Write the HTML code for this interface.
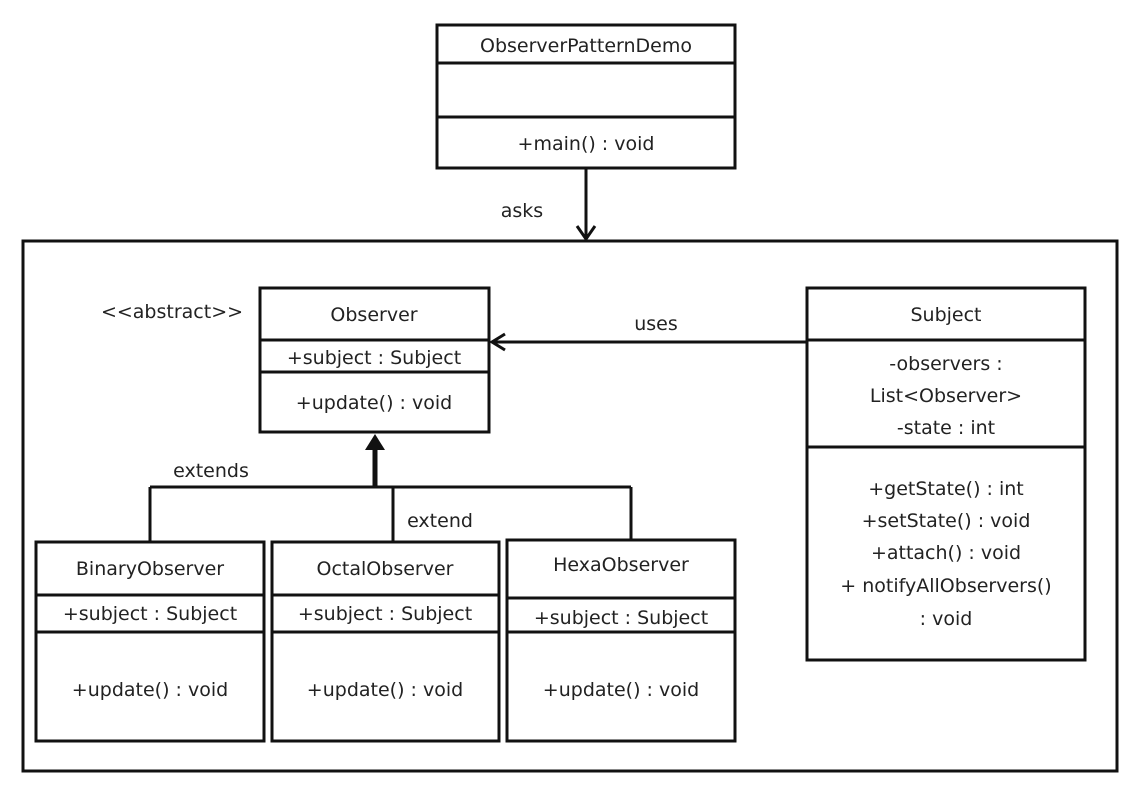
<!DOCTYPE html>
<html><head><meta charset="utf-8"><style>
html,body{margin:0;padding:0;background:#fff;}
svg{display:block;}
text{font-family:"DejaVu Sans","Liberation Sans",sans-serif;font-size:19px;fill:#222;}
</style></head><body>
<svg width="1138" height="790" viewBox="0 0 1138 790" xmlns="http://www.w3.org/2000/svg">
<g fill="none" stroke="#111" stroke-width="3">
<rect x="23" y="241" width="1094" height="530"/>
<rect x="437" y="25" width="298" height="143"/>
<line x1="437" y1="63" x2="735" y2="63"/>
<line x1="437" y1="117" x2="735" y2="117"/>
<line x1="586" y1="168" x2="586" y2="238"/>
<polyline points="577,226 586,239 595,226"/>
<rect x="260" y="288" width="229" height="144"/>
<line x1="260" y1="340" x2="489" y2="340"/>
<line x1="260" y1="372" x2="489" y2="372"/>
<rect x="807" y="288" width="278" height="372"/>
<line x1="807" y1="340" x2="1085" y2="340"/>
<line x1="807" y1="447" x2="1085" y2="447"/>
<line x1="807" y1="342" x2="492" y2="342"/>
<polyline points="505,334 492,342 505,350"/>
<line x1="375" y1="440" x2="375" y2="487" stroke-width="5"/>
<line x1="150" y1="487" x2="631" y2="487"/>
<line x1="150" y1="487" x2="150" y2="542"/>
<line x1="393" y1="487" x2="393" y2="542"/>
<line x1="631" y1="487" x2="631" y2="540"/>
<rect x="36" y="542" width="228" height="199"/>
<line x1="36" y1="595" x2="264" y2="595"/>
<line x1="36" y1="632" x2="264" y2="632"/>
<rect x="272" y="542" width="227" height="199"/>
<line x1="272" y1="595" x2="499" y2="595"/>
<line x1="272" y1="632" x2="499" y2="632"/>
<rect x="507" y="540" width="228" height="201"/>
<line x1="507" y1="598" x2="735" y2="598"/>
<line x1="507" y1="632" x2="735" y2="632"/>
</g>
<polygon points="365,450 375,434 385,450" fill="#111"/>
<g text-anchor="middle">
<text x="586" y="52">ObserverPatternDemo</text>
<text x="586" y="150">+main()  : void</text>
<text x="522" y="217">asks</text>
<text x="374" y="321">Observer</text>
<text x="374" y="364">+subject  : Subject</text>
<text x="374" y="409">+update()  : void</text>
<text x="172" y="318">&lt;&lt;abstract&gt;&gt;</text>
<text x="656" y="330">uses</text>
<text x="946" y="321">Subject</text>
<text x="946" y="370">-observers  :</text>
<text x="946" y="402">List&lt;Observer&gt;</text>
<text x="946" y="434">-state : int</text>
<text x="946" y="495">+getState() : int</text>
<text x="946" y="527">+setState()  : void</text>
<text x="946" y="559">+attach() : void</text>
<text x="946" y="592">+ notifyAllObservers()</text>
<text x="946" y="625">: void</text>
<text x="211" y="477">extends</text>
<text x="440" y="527">extend</text>
<text x="150" y="575">BinaryObserver</text>
<text x="150" y="620">+subject  : Subject</text>
<text x="150" y="696">+update()  : void</text>
<text x="385" y="575">OctalObserver</text>
<text x="385" y="620">+subject  : Subject</text>
<text x="385" y="696">+update()  : void</text>
<text x="621" y="571">HexaObserver</text>
<text x="621" y="624">+subject  : Subject</text>
<text x="621" y="696">+update()  : void</text>
</g>
</svg>
</body></html>
